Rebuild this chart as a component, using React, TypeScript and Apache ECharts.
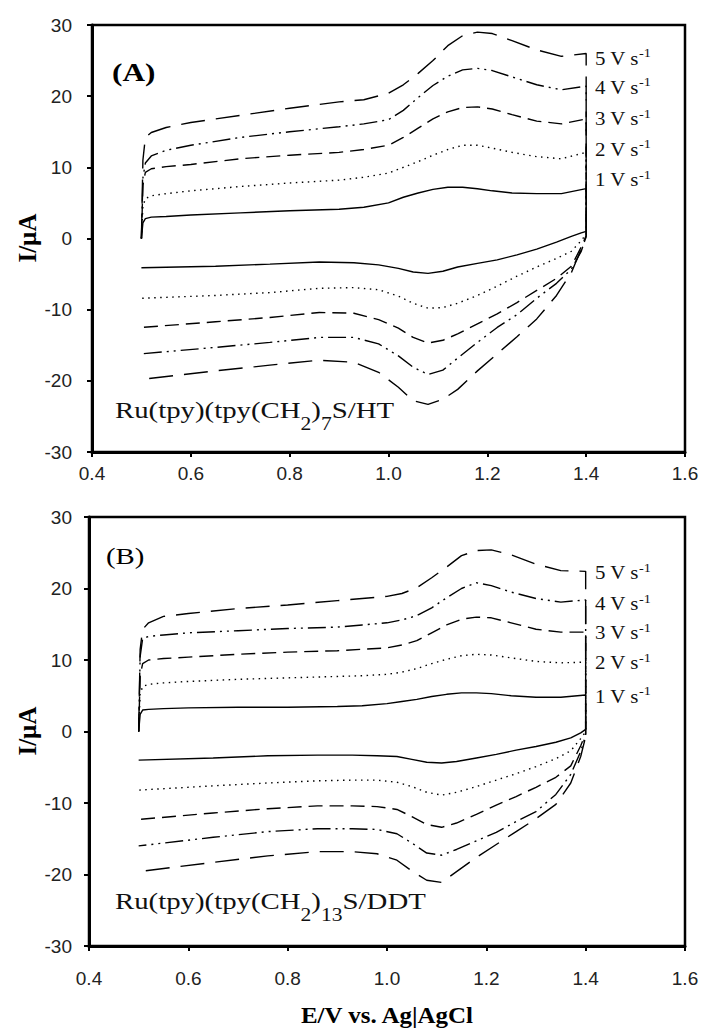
import React, { useEffect, useRef } from "react";
import * as echarts from "echarts";

// Potential grid (V vs Ag|AgCl) for the forward (anodic) and reverse (cathodic) sweeps
const E_FORWARD = [0.5, 0.503, 0.508, 0.52, 0.55, 0.6, 0.7, 0.8, 0.9, 0.95, 1.0, 1.03, 1.06, 1.09, 1.12, 1.15, 1.18, 1.21, 1.25, 1.3, 1.35, 1.4];
const E_REVERSE = [1.4, 1.39, 1.37, 1.34, 1.3, 1.26, 1.22, 1.18, 1.14, 1.11, 1.08, 1.05, 1.02, 0.98, 0.93, 0.86, 0.76, 0.65, 0.5];

const SCAN_RATES = [1, 2, 3, 4, 5];

// Panel A: Ru(tpy)(tpy(CH2)7S/HT, currents in µA, one row per scan rate (1..5 V/s)
const A_FORWARD = [
  [0, 2.2, 2.8, 3.0, 3.1, 3.3, 3.6, 3.9, 4.1, 4.4, 5.0, 5.8, 6.4, 6.9, 7.2, 7.2, 7.0, 6.7, 6.4, 6.3, 6.3, 7.0],
  [0, 4.5, 5.6, 6.0, 6.3, 6.7, 7.3, 7.8, 8.2, 8.6, 9.2, 10.0, 10.8, 11.7, 12.5, 13.1, 13.1, 12.7, 12.1, 11.5, 11.2, 12.1],
  [0, 7.5, 9.3, 9.8, 10.1, 10.4, 11.2, 11.7, 12.1, 12.5, 13.1, 14.2, 15.5, 16.8, 17.8, 18.4, 18.5, 18.2, 17.4, 16.5, 16.1, 16.8],
  [0, 8.5, 10.6, 11.6, 12.4, 13.1, 14.2, 15.0, 15.7, 16.1, 16.7, 18.0, 19.8, 21.5, 22.8, 23.7, 23.9, 23.6, 22.7, 21.6, 20.9, 21.4],
  [0, 11.0, 14.2, 14.9, 15.6, 16.3, 17.3, 18.3, 19.2, 19.5, 20.4, 21.6, 23.2, 25.0, 27.1, 28.5, 29.0, 28.8, 27.8, 26.5, 25.6, 26.0],
];
const A_REVERSE = [
  [1.0, 0.8, 0.3, -0.5, -1.5, -2.3, -3.0, -3.5, -4.0, -4.6, -4.9, -4.7, -4.2, -3.7, -3.4, -3.3, -3.6, -3.9, -4.1],
  [0.6, -0.3, -1.8, -2.8, -4.0, -5.3, -6.7, -8.0, -9.1, -9.7, -9.8, -9.1, -8.1, -7.2, -6.9, -7.0, -7.6, -8.0, -8.4],
  [0.4, -1.2, -3.9, -5.6, -7.3, -9.0, -10.6, -12.0, -13.4, -14.3, -14.7, -13.9, -12.6, -11.4, -10.5, -10.4, -11.1, -11.7, -12.5],
  [0.3, -1.8, -4.3, -6.3, -8.4, -10.7, -12.5, -14.6, -16.8, -18.5, -19.1, -18.1, -16.5, -14.8, -13.9, -13.9, -14.6, -15.3, -16.2],
  [0.2, -1.5, -4.8, -8.0, -11.3, -13.8, -16.2, -18.6, -21.2, -22.6, -23.3, -22.8, -20.9, -18.8, -17.4, -17.1, -17.8, -18.6, -19.8],
];

// Panel B: Ru(tpy)(tpy(CH2)13S/DDT
const B_FORWARD = [
  [0, 2.4, 3.0, 3.1, 3.2, 3.3, 3.4, 3.4, 3.5, 3.6, 3.9, 4.2, 4.5, 4.9, 5.2, 5.4, 5.4, 5.3, 5.0, 4.8, 4.8, 5.1],
  [0, 5.2, 6.3, 6.6, 6.8, 7.0, 7.3, 7.5, 7.7, 7.8, 8.0, 8.3, 8.8, 9.5, 10.1, 10.6, 10.8, 10.7, 10.3, 9.8, 9.6, 9.7],
  [0, 7.8, 9.5, 10.0, 10.2, 10.4, 10.8, 11.1, 11.3, 11.5, 11.7, 12.1, 12.7, 13.8, 14.9, 15.7, 16.0, 15.9, 15.2, 14.3, 13.9, 13.9],
  [0, 10.5, 13.0, 13.3, 13.5, 13.8, 14.1, 14.4, 14.6, 14.9, 15.2, 15.6, 16.2, 17.3, 18.7, 20.0, 20.8, 20.4, 19.5, 18.6, 18.1, 18.4],
  [0, 11.5, 14.3, 15.2, 16.1, 16.5, 17.2, 17.7, 18.3, 18.6, 18.9, 19.3, 20.1, 21.5, 23.0, 24.6, 25.3, 25.4, 24.7, 23.4, 22.5, 22.4],
];
const B_REVERSE = [
  [0.3, -0.2, -0.9, -1.5, -2.1, -2.6, -3.2, -3.7, -4.2, -4.4, -4.3, -3.9, -3.5, -3.4, -3.3, -3.3, -3.4, -3.7, -4.0],
  [0.0, -1.0, -2.7, -3.8, -4.9, -5.9, -6.8, -7.7, -8.5, -8.9, -8.5, -7.7, -7.1, -6.8, -6.8, -6.9, -7.2, -7.6, -8.2],
  [-0.3, -2.0, -4.8, -6.4, -7.8, -9.1, -10.3, -11.6, -12.8, -13.4, -13.0, -11.9, -10.9, -10.5, -10.4, -10.4, -10.8, -11.4, -12.3],
  [-0.5, -2.8, -6.0, -8.8, -11.2, -12.6, -14.1, -15.3, -16.5, -17.3, -17.0, -15.6, -14.3, -13.7, -13.6, -13.6, -14.0, -14.8, -16.0],
  [-0.7, -3.5, -7.2, -10.2, -12.2, -14.0, -15.8, -17.6, -19.6, -21.1, -20.8, -19.5, -18.0, -17.1, -16.8, -16.8, -17.4, -18.3, -19.6],
];

// Line style per scan rate: solid, dotted, dashed, dash-dot-dot, long dash
const DASHES: any[] = ["solid", [1.5, 4.5], [14, 7], [18, 5, 2, 5, 2, 5], [24, 11]];

const SERIF = "Liberation Serif";
const SANS = "Liberation Sans";

function buildSeries(panel: number, fwd: number[][], rev: number[][]) {
  return fwd.map((f, k) => ({
    type: "line",
    name: `${SCAN_RATES[k]} V/s (${panel === 0 ? "A" : "B"})`,
    xAxisIndex: panel,
    yAxisIndex: panel,
    data: E_FORWARD.map((e, i) => [e, f[i]]).concat(E_REVERSE.map((e, i) => [e, rev[k][i]])),
    showSymbol: false,
    symbol: "none",
    silent: true,
    lineStyle: { color: "#000", width: 1.4, type: DASHES[k] },
  }));
}

function xAxis(gridIndex: number, margin: number) {
  return {
    type: "value",
    gridIndex,
    min: 0.4,
    max: 1.6,
    interval: 0.2,
    axisLine: { show: true, onZero: false, lineStyle: { color: "#000", width: 3 } },
    axisTick: { show: true, inside: false, length: 5, lineStyle: { color: "#000", width: 2 } },
    axisLabel: {
      margin,
      color: "#222",
      fontFamily: SANS,
      fontSize: 19,
      showMinLabel: true,
      showMaxLabel: true,
      formatter: (v: number) => v.toFixed(1),
    },
    splitLine: { show: false },
  };
}

function yAxis(gridIndex: number, margin: number) {
  return {
    type: "value",
    gridIndex,
    min: -30,
    max: 30,
    interval: 10,
    axisLine: { show: true, onZero: false, lineStyle: { color: "#000", width: 3 } },
    axisTick: { show: true, inside: false, length: 5, lineStyle: { color: "#000", width: 2 } },
    axisLabel: {
      margin,
      color: "#222",
      fontFamily: SANS,
      fontSize: 19,
      showMinLabel: true,
      showMaxLabel: true,
      formatter: (v: number) => String(Math.round(v)),
    },
    splitLine: { show: false },
  };
}

function rateLabel(x: number, y: number, n: number) {
  return {
    type: "text",
    x,
    y,
    scaleX: 1.1,
    silent: true,
    style: {
      text: `{m|${n} V s}{p|-1}`,
      align: "left",
      textAlign: "left",
      verticalAlign: "middle",
      textVerticalAlign: "middle",
      fill: "#111",
      rich: {
        m: { fontFamily: SERIF, fontSize: 19, lineHeight: 21, verticalAlign: "bottom", fill: "#111" },
        p: { fontFamily: SERIF, fontSize: 13, lineHeight: 13, verticalAlign: "top", fill: "#111" },
      },
    },
  };
}

function systemLabel(x: number, y: number, chain: string, blend: string) {
  return {
    type: "text",
    x,
    y,
    scaleX: 1.2,
    silent: true,
    style: {
      text: `{m|Ru(tpy)(tpy(CH}{s|2}{m|)}{s|${chain}}{m|S/${blend}}`,
      align: "left",
      textAlign: "left",
      verticalAlign: "top",
      textVerticalAlign: "top",
      fill: "#111",
      rich: {
        m: { fontFamily: SERIF, fontSize: 24, lineHeight: 24, verticalAlign: "top", fill: "#111" },
        s: { fontFamily: SERIF, fontSize: 18, lineHeight: 35, verticalAlign: "bottom", fill: "#111" },
      },
    },
  };
}

function plainText(x: number, y: number, text: string, font: string, extra: any = {}) {
  return {
    type: "text",
    x,
    y,
    silent: true,
    ...extra,
    style: {
      text,
      font,
      fill: "#000",
      align: extra.align || "center",
      textAlign: extra.align || "center",
      verticalAlign: "middle",
      textVerticalAlign: "middle",
    },
  };
}

const RATE_Y_A = [178.5, 148, 117.5, 86, 57];
const RATE_Y_B = [695, 661.5, 631.5, 602.5, 571.5];

export default function App() {
  const ref = useRef<HTMLDivElement>(null);

  useEffect(() => {
    if (!ref.current) return;
    const chart = echarts.init(ref.current, undefined, { renderer: "svg" });

    const graphics: any[] = [
      plainText(112, 71.5, "(A)", `bold 26px "${SERIF}"`, { align: "left", scaleX: 1.2 }),
      plainText(106, 556, "(B)", `24px "${SERIF}"`, { align: "left", scaleX: 1.2 }),
      systemLabel(115, 397.5, "7", "HT"),
      systemLabel(115, 889, "13", "DDT"),
      plainText(27, 238, "I/µA", `bold 25px "${SERIF}"`, { rotation: Math.PI / 2 }),
      plainText(27, 731, "I/µA", `bold 25px "${SERIF}"`, { rotation: Math.PI / 2 }),
      plainText(387, 1015, "E/V vs. Ag|AgCl", `bold 24px "${SERIF}"`, { scaleX: 1.04 }),
      ...SCAN_RATES.map((n, i) => rateLabel(595, RATE_Y_A[i], n)),
      ...SCAN_RATES.map((n, i) => rateLabel(595, RATE_Y_B[i], n)),
    ];

    chart.setOption({
      animation: false,
      backgroundColor: "#fff",
      grid: [
        { left: 92, top: 25, width: 593, height: 427, show: true, borderColor: "#000", borderWidth: 2.5, backgroundColor: "transparent" },
        { left: 89, top: 517, width: 596, height: 429, show: true, borderColor: "#000", borderWidth: 2.5, backgroundColor: "transparent" },
      ],
      xAxis: [xAxis(0, 12), xAxis(1, 23)],
      yAxis: [yAxis(0, 20), yAxis(1, 17)],
      series: [...buildSeries(0, A_FORWARD, A_REVERSE), ...buildSeries(1, B_FORWARD, B_REVERSE)],
      graphic: graphics,
    });

    return () => chart.dispose();
  }, []);

  return (
    <div
      ref={ref}
      style={{ position: "absolute", left: 0, top: 0, width: 704, height: 1030, background: "#fff" }}
    />
  );
}
